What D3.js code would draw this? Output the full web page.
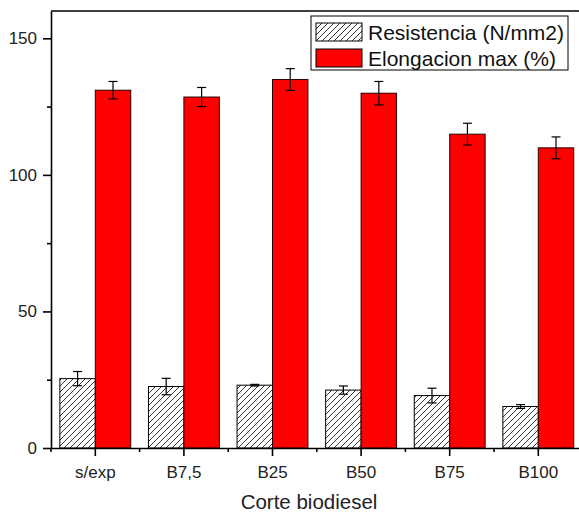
<!DOCTYPE html>
<html>
<head>
<meta charset="utf-8">
<script src="https://cdn.jsdelivr.net/npm/d3@7"></script>
<style>
  body { margin: 0; background: #fff; }
  svg { display: block; font-family: "Liberation Sans", Arial, sans-serif; }
  .axis path, .axis line { stroke: #000; stroke-width: 1.6; }
  .axis text { fill: #222; font-size: 17px; }
</style>
</head>
<body>
<div id="chart"></div>
<script>
// data
const categories = ["s/exp", "B7,5", "B25", "B50", "B75", "B100"];
const resistencia = [25.4, 22.5, 23.0, 21.2, 19.2, 15.2];
const resistenciaErr = [2.6, 3.0, 0.3, 1.5, 2.7, 0.7];
const elongacion = [131.0, 128.5, 134.9, 129.9, 114.9, 109.9];
const elongacionErr = [3.2, 3.5, 4.0, 4.3, 4.0, 4.0];
const yTicks = [0, 50, 100, 150];
const yMinorTicks = [25, 75, 125];
const seriesNames = ["Resistencia (N/mm2)", "Elongacion max (%)"];

const margin = { top: 11, right: 0, bottom: 64, left: 51 };
const W = 579, H = 512;
const width = 531.6;
const height = H - margin.top - margin.bottom;

const svg = d3.select("#chart").append("svg")
    .attr("width", W)
    .attr("height", H);

// hatch pattern
const defs = svg.append("defs");
const pat = defs.append("pattern")
    .attr("id", "hatch")
    .attr("patternUnits", "userSpaceOnUse")
    .attr("width", 6)
    .attr("height", 6);
pat.append("rect").attr("width", 6).attr("height", 6).attr("fill", "#fff");
pat.append("path")
    .attr("d", "M-1,1 L1,-1 M0,6 L6,0 M5,7 L7,5")
    .attr("stroke", "#000")
    .attr("stroke-width", 0.8);

const g = svg.append("g")
    .attr("transform", "translate(" + margin.left + "," + margin.top + ")");

const x = d3.scaleBand()
    .domain(categories)
    .range([0, width]);

const xSub = d3.scaleBand()
    .domain(["res", "elo"])
    .range([0, x.bandwidth()])
    .paddingOuter(0.25);

const y = d3.scaleLinear()
    .domain([0, 160])
    .range([height, 0]);

const rows = categories.map((c, i) => ({
    cat: c,
    res: resistencia[i], resErr: resistenciaErr[i],
    elo: elongacion[i], eloErr: elongacionErr[i]
}));

// bars
g.selectAll(".bar-res")
    .data(rows)
    .enter().append("rect")
    .attr("class", "bar-res")
    .attr("x", d => x(d.cat) + xSub("res"))
    .attr("y", d => y(d.res))
    .attr("width", xSub.bandwidth())
    .attr("height", d => y(0) - y(d.res))
    .attr("fill", "url(#hatch)")
    .attr("stroke", "#000")
    .attr("stroke-width", 1);

g.selectAll(".bar-elo")
    .data(rows)
    .enter().append("rect")
    .attr("class", "bar-elo")
    .attr("x", d => x(d.cat) + xSub("elo"))
    .attr("y", d => y(d.elo))
    .attr("width", xSub.bandwidth())
    .attr("height", d => y(0) - y(d.elo))
    .attr("fill", "#ff0000")
    .attr("stroke", "#2a0000")
    .attr("stroke-width", 1);

// error bars
function errorBars(key, errKey) {
    const cx = d => x(d.cat) + xSub(key) + xSub.bandwidth() / 2;
    const eg = g.selectAll(".err-" + key)
        .data(rows)
        .enter().append("g")
        .attr("class", "err-" + key)
        .attr("stroke", "#000")
        .attr("stroke-width", 1.2);
    eg.append("line")
        .attr("x1", cx).attr("x2", cx)
        .attr("y1", d => y(d[key] + d[errKey]))
        .attr("y2", d => y(d[key] - d[errKey]));
    eg.append("line")
        .attr("x1", d => cx(d) - 4.5).attr("x2", d => cx(d) + 4.5)
        .attr("y1", d => y(d[key] + d[errKey]))
        .attr("y2", d => y(d[key] + d[errKey]));
    eg.append("line")
        .attr("x1", d => cx(d) - 4.5).attr("x2", d => cx(d) + 4.5)
        .attr("y1", d => y(d[key] - d[errKey]))
        .attr("y2", d => y(d[key] - d[errKey]));
}
errorBars("res", "resErr");
errorBars("elo", "eloErr");

// axes
const yAxis = d3.axisLeft(y)
    .tickValues(yTicks)
    .tickSize(8)
    .tickSizeOuter(0)
    .tickPadding(6);
g.append("g").attr("class", "axis y-axis").call(yAxis);

g.append("g").attr("class", "axis y-minor")
    .call(d3.axisLeft(y).tickValues(yMinorTicks).tickSize(4).tickSizeOuter(0).tickFormat(""))
    .select(".domain").remove();

const xAxis = d3.axisBottom(x)
    .tickSize(8)
    .tickSizeOuter(0)
    .tickPadding(10);
g.append("g").attr("class", "axis x-axis")
    .attr("transform", "translate(0," + height + ")")
    .call(xAxis);

// minor ticks at band edges
const edges = categories.map(c => x(c)).concat([x.range()[1]]);
g.append("g").attr("class", "axis x-minor")
    .selectAll("line")
    .data(edges)
    .enter().append("line")
    .attr("x1", d => d).attr("x2", d => d)
    .attr("y1", height).attr("y2", height + 4);

// top and right frame
g.append("line")
    .attr("x1", 0).attr("x2", width)
    .attr("y1", 0).attr("y2", 0)
    .attr("stroke", "#000").attr("stroke-width", 1.6);
g.append("line")
    .attr("x1", width).attr("x2", width)
    .attr("y1", 0).attr("y2", height)
    .attr("stroke", "#000").attr("stroke-width", 1.6);

// axis title
svg.append("text")
    .attr("x", margin.left + 258)
    .attr("y", 509)
    .attr("text-anchor", "middle")
    .attr("font-size", "20.5px")
    .attr("fill", "#222")
    .text("Corte biodiesel");

// legend
const legend = svg.append("g").attr("transform", "translate(311,16)");
legend.append("rect")
    .attr("width", 257).attr("height", 54)
    .attr("fill", "#fff")
    .attr("stroke", "#000").attr("stroke-width", 1);
const fills = ["url(#hatch)", "#ff0000"];
seriesNames.forEach((name, i) => {
    const row = legend.append("g").attr("transform", "translate(5," + (7 + i * 26) + ")");
    row.append("rect")
        .attr("width", 46).attr("height", 18)
        .attr("fill", fills[i])
        .attr("stroke", "#000").attr("stroke-width", 1);
    row.append("text")
        .attr("x", 52).attr("y", 16.5)
        .attr("font-size", "21px")
        .attr("fill", "#111")
        .text(name);
});
</script>
</body>
</html>
